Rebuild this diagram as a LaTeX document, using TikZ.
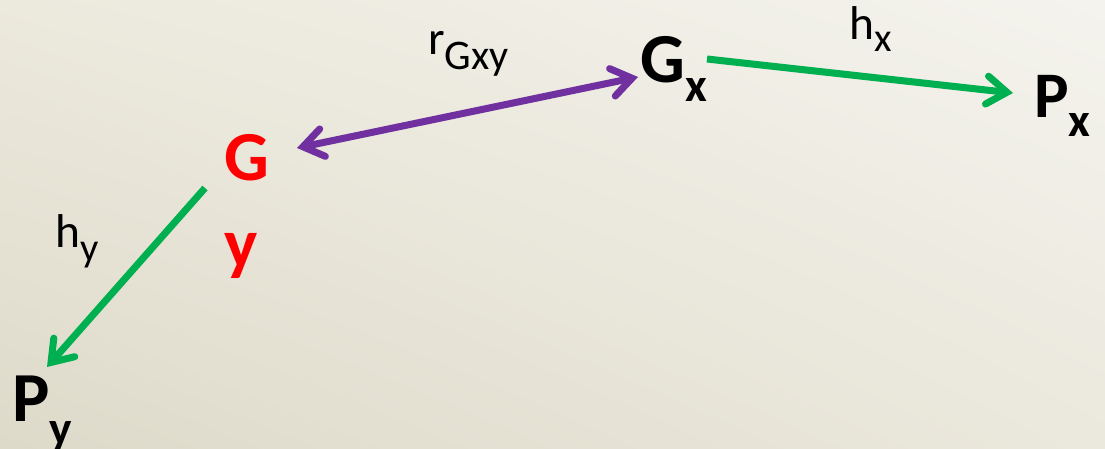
\documentclass[tikz,border=0pt]{standalone}
\usepackage{fontspec}
\setmainfont{Carlito}
\usetikzlibrary{arrows.meta,positioning,shadings}
\definecolor{bgul}{HTML}{ECE9DD}
\definecolor{bgur}{HTML}{F4F3ED}
\definecolor{bgll}{HTML}{DEDACA}
\definecolor{bglr}{HTML}{EBE8DD}
\definecolor{hopgreen}{HTML}{00B050}
\definecolor{pairpurple}{HTML}{7030A0}
\definecolor{gyred}{HTML}{FF0000}
\newcommand{\bigfont}{\fontsize{40}{49}\selectfont\bfseries}
\newcommand{\midfont}{\fontsize{37}{44}\selectfont\bfseries}
\newcommand{\subfont}{\fontsize{27}{27}\selectfont\bfseries}
\newcommand{\lblfont}{\fontsize{27}{27}\selectfont}
\newcommand{\lblsub}{\fontsize{23}{23}\selectfont}

\begin{document}
\begin{tikzpicture}[
  x=0.02cm, y=-0.02cm,
  lbl/.style={inner sep=0pt, anchor=base west},
  hop/.style={-{Straight Barb[length=4mm, width=5.6mm, line cap=round]}, line width=4pt, draw=hopgreen},
  pair/.style={{Straight Barb[length=4mm, width=5.6mm, line cap=round]}-{Straight Barb[length=4mm, width=5.6mm, line cap=round]}, line width=4pt, draw=pairpurple}
]
% background
\shade[upper left=bgul, upper right=bgur, lower left=bgll, lower right=bglr] (0,0) rectangle (1105,449);
\useasboundingbox (0,0) rectangle (1105,449);

% points
\node[lbl, font=\bigfont] (Gx) at (640,83) {G\lower10.8pt\hbox{\subfont x}};
\node[lbl, font=\midfont] (Px) at (1034,118) {P\lower10.8pt\hbox{\subfont x}};
\node[lbl, font=\bigfont] (Py) at (12,421) {P\lower13.5pt\hbox{\subfont y}};
\node[lbl, font=\bigfont, text=gyred, align=left] (Gy) at (224,267) {G\\y};

% labels
\node[lbl, font=\lblfont] (rG) at (428,55) {r\lower8.5pt\hbox{\fontsize{24}{24}\selectfont Gxy}};
\node[lbl, font=\lblfont] (hx) at (849,40) {h\lower6.8pt\hbox{\lblsub x}};
\node[lbl, font=\lblfont] (hy) at (55,248) {h\lower7.4pt\hbox{\lblsub y}};

% links
\draw[pair] ([shift={(73,-119)}]Gy.base west) -- ([shift={(-2,-6)}]Gx.base west);
\draw[hop] ([shift={(67,-24)}]Gx.base west) -- ([shift={(-21,-25)}]Px.base west);
\draw[hop] ([shift={(-19,-79)}]Gy.base west) -- ([shift={(35,-54)}]Py.base west);
\end{tikzpicture}
\end{document}
